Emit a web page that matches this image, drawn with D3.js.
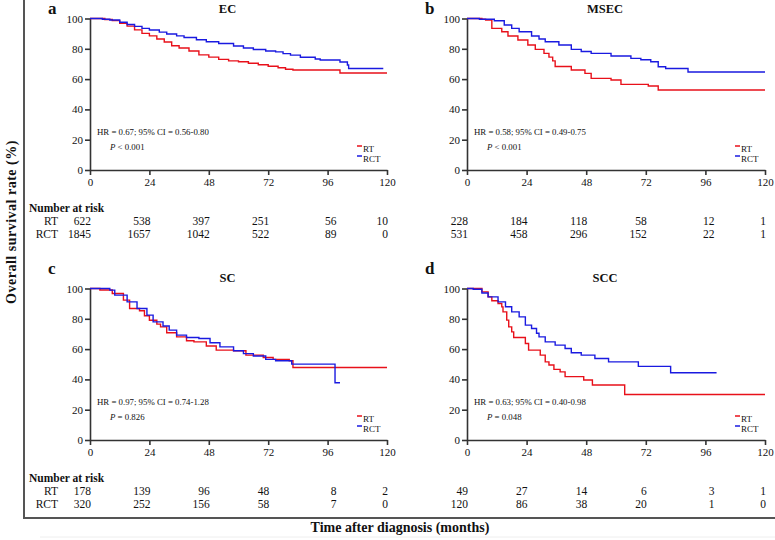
<!DOCTYPE html>
<html>
<head>
<meta charset="utf-8">
<script src="https://cdn.jsdelivr.net/npm/d3@7"></script>
<style>
  body { margin: 0; background: #fff; }
  svg text { font-family: "Liberation Serif", "Times New Roman", serif; fill: #111; }
</style>
</head>
<body>
<svg id="chart" width="775" height="540"></svg>
<script>
// tick marks (months / percent)
const monthTicks = [0, 24, 48, 72, 96, 120];
const rateTicks = [0, 20, 40, 60, 80, 100];
const groups = ["RT", "RCT"];
const groupColors = ["#e8101a", "#1a1ae0"];

// panel letters, titles and stats
const letters = ["a", "b", "c", "d"];
const titles = ["EC", "MSEC", "SC", "SCC"];
const hrTexts = [
  "HR = 0.67; 95% CI = 0.56-0.80",
  "HR = 0.58; 95% CI = 0.49-0.75",
  "HR = 0.97; 95% CI = 0.74-1.28",
  "HR = 0.63; 95% CI = 0.40-0.98"
];
const pTexts = ["< 0.001", "< 0.001", "= 0.826", "= 0.048"];

// number at risk, one row per group
const riskEC = [[622, 538, 397, 251, 56, 10], [1845, 1657, 1042, 522, 89, 0]];
const riskMSEC = [[228, 184, 118, 58, 12, 1], [531, 458, 296, 152, 22, 1]];
const riskSC = [[178, 139, 96, 48, 8, 2], [320, 252, 156, 58, 7, 0]];
const riskSCC = [[49, 27, 14, 6, 3, 1], [120, 86, 38, 20, 1, 0]];

// survival curves [month, %]
const ecRT = [[0,100],[6,99.3],[9,98.6],[12,96.8],[15,95],[18,92.5],[21,90.2],[24,88.5],[27,86.5],[30,84.5],[33,82],[36,80.5],[40,78.5],[44,76],[48,74.5],[52,73],[56,72],[60,71.5],[64,70.5],[68,69.5],[72,68.5],[76,67.5],[79,66.5],[82,66],[101,64],[120,64]];
const ecRCT = [[0,100],[5,99.5],[8,99],[12,97.5],[15,96],[18,94.8],[21,93.5],[24,92.4],[28,91],[31,89.8],[35,88.5],[38,87.5],[43,86],[47,84.7],[52,83.5],[58,81.8],[62,80.5],[66,79.5],[71,78.5],[75,78],[78,76.8],[81,75.8],[85,74.4],[91,73.3],[93,72.6],[101,71.3],[104,69.3],[104.5,67],[118.5,67]];
const msecRT = [[0,100],[6,99.5],[7.5,99],[10,93.5],[14,91.3],[16.5,88.4],[20.5,85.8],[24.5,82.5],[27.5,79.6],[31,77],[33,74.5],[34.5,72],[35.5,68.3],[42,66],[47.5,63.8],[50,60.5],[58,59.4],[62,56.5],[73,55.4],[77,52.8],[120,52.8]];
const msecRCT = [[0,100],[5,99.5],[11,98.5],[15,95.7],[18,93.5],[21,91.3],[26,88.4],[29,86.5],[31.5,84.7],[37,82.5],[42,79.6],[46,78.2],[50,77],[58,75.2],[66,73.7],[70,72.8],[74,71.5],[77,68.2],[80,67],[88,67],[89,64.7],[120,64.7]];
const scRT = [[0,100],[4,99],[9,96.7],[13.5,92.3],[16,86.8],[20,85.3],[22,82],[24,79],[27,76.5],[28.5,74.7],[31,70.8],[35,68.1],[39,65.5],[42,64.8],[47,62],[51,59.3],[58,58.9],[63,56],[70,54.5],[74,53.2],[80.5,52.3],[82,47.9],[120,47.9]];
const scRCT = [[0,100],[8,98.9],[10,95.6],[15,91.2],[19,86.8],[23,82.4],[25.5,78],[29.5,75.2],[32,72.5],[35,69.2],[39,67.7],[44,67],[48.5,64.2],[52.5,61.5],[58,58.9],[62,57],[66,55.4],[71,53.2],[75,52.3],[81.5,50.1],[99,37.8],[101,37.8]];
const sccRT = [[0,100],[6,97.8],[8.5,94.5],[10,91.9],[12.5,90.1],[14,87.9],[14.5,84.6],[16,79.1],[16.8,74.7],[18,71.4],[18.8,67.7],[23.5,63.7],[24.8,59.3],[29.5,56],[31.5,51.6],[33,49.5],[35,46.6],[37.5,45],[39.5,41.8],[47,39.6],[50.5,36.3],[63.5,30],[120,30]];
const sccRCT = [[0,100],[2.5,99.5],[6,97],[8.5,94.5],[12.5,91.2],[15.5,88],[18,84.6],[21,81.3],[23.5,75.8],[26,73.6],[28,70.5],[29,68.1],[31.5,64.8],[35.5,62.6],[39.5,60.4],[42,57.6],[46,56],[51.5,53.8],[57,51.6],[69,48.6],[82,44.4],[100.5,44.4]];

const curves = [[ecRT, ecRCT], [msecRT, msecRCT], [scRT, scRCT], [sccRT, sccRCT]];
const risks = [riskEC, riskMSEC, riskSC, riskSCC];

const svg = d3.select("#chart");

// outer frame (left and bottom)
svg.append("path")
  .attr("d", "M24,0 V518 H775")
  .attr("fill", "none")
  .attr("stroke", "#555")
  .attr("stroke-width", 2);
svg.append("line")
  .attr("x1", 40).attr("x2", 775).attr("y1", 537).attr("y2", 537)
  .attr("stroke", "#eee").attr("stroke-width", 1);

// panel placement
let colLeft = [90, 467],
  colRight = [387, 765],
  rowTop = [18.5, 288.5],
  rowBottom = [170, 440];

for (let p = 0; p < 4; p++) {
  let c = p % 2, r = Math.floor(p / 2);
  let x = d3.scaleLinear().domain([0, 120]).range([colLeft[c], colRight[c]]);
  let y = d3.scaleLinear().domain([0, 100]).range([rowBottom[r], rowTop[r]]);
  let g = svg.append("g");

  // axes
  let xAxis = d3.axisBottom(x).tickValues(monthTicks).tickSize(5).tickSizeOuter(0).tickPadding(3);
  let yAxis = d3.axisLeft(y).tickValues(rateTicks).tickSize(5).tickSizeOuter(0).tickPadding(2);
  g.append("g")
    .attr("class", "axis")
    .attr("transform", `translate(0,${rowBottom[r]})`)
    .call(xAxis);
  g.append("g")
    .attr("class", "axis")
    .attr("transform", `translate(${colLeft[c]},0)`)
    .call(yAxis);
  g.selectAll(".axis path, .axis line")
    .attr("stroke", "#333")
    .attr("stroke-width", 1.6);
  g.selectAll(".axis text")
    .style("font-family", "Liberation Serif")
    .style("font-size", "11px")
    .attr("fill", "#111");

  // survival lines
  let line = d3.line()
    .x((d) => x(d[0]))
    .y((d) => y(d[1]))
    .curve(d3.curveStepAfter);
  curves[p].forEach((data, i) => {
    g.append("path")
      .datum(data)
      .attr("d", line)
      .attr("fill", "none")
      .attr("stroke", groupColors[i])
      .attr("stroke-width", 1.4);
  });

  // letter and title
  g.append("text")
    .attr("x", colLeft[c] - 42)
    .attr("y", r == 0 ? 14 : 274)
    .style("font-size", "17px")
    .style("font-weight", "bold")
    .text(letters[p]);
  g.append("text")
    .attr("x", (colLeft[c] + colRight[c]) / 2 - 11)
    .attr("y", r == 0 ? 10 : 279)
    .attr("text-anchor", "middle")
    .attr("dominant-baseline", "middle")
    .style("font-size", "12.5px")
    .style("font-weight", "bold")
    .text(titles[p]);

  // HR and P
  g.append("text")
    .attr("x", colLeft[c] + 7)
    .attr("y", rowBottom[r] - 37)
    .attr("dominant-baseline", "middle")
    .style("font-size", "8.8px")
    .text(hrTexts[p]);
  let pt = g.append("text")
    .attr("x", colLeft[c] + 20)
    .attr("y", rowBottom[r] - 22)
    .attr("dominant-baseline", "middle")
    .style("font-size", "8.8px");
  pt.append("tspan").style("font-style", "italic").text("P");
  pt.append("tspan").text(" " + pTexts[p]);

  // legend
  groups.forEach((k, i) => {
    let lx = colRight[c] - 24, ly = rowBottom[r] - 20 + i * 10;
    g.append("line")
      .attr("x1", lx - 6).attr("x2", lx - 1)
      .attr("y1", ly - 4).attr("y2", ly - 4)
      .attr("stroke", groupColors[i])
      .attr("stroke-width", 1.5);
    g.append("text")
      .attr("x", lx)
      .attr("y", ly)
      .attr("dominant-baseline", "middle")
      .style("font-size", "9px")
      .text(k);
  });

  // number at risk
  let riskTop = r == 0 ? 209 : 479;
  if (c == 0) {
    g.append("text")
      .attr("x", 29)
      .attr("y", riskTop)
      .attr("dominant-baseline", "middle")
      .style("font-size", "11.5px")
      .style("font-weight", "bold")
      .text("Number at risk");
    groups.forEach((k, i) => {
      g.append("text")
        .attr("x", 58)
        .attr("y", riskTop + 13 * (i + 1))
        .attr("text-anchor", "end")
        .attr("dominant-baseline", "middle")
        .style("font-size", "11.5px")
        .text(k);
    });
  }
  risks[p].forEach((row, i) => {
    g.selectAll(null)
      .data(row)
      .enter()
      .append("text")
      .attr("x", (d, j) => x(monthTicks[j]) + (j == 4 ? 9 : 1))
      .attr("y", riskTop + 13 * (i + 1))
      .attr("text-anchor", "end")
      .attr("dominant-baseline", "middle")
      .style("font-size", "11.5px")
      .text((d) => d);
  });
}

// shared axis titles
svg.append("text")
  .attr("transform", "translate(13,222) rotate(-90)")
  .attr("text-anchor", "middle")
  .attr("dominant-baseline", "middle")
  .style("font-size", "14px")
  .style("font-weight", "bold")
  .style("letter-spacing", "0.5px")
  .text("Overall survival rate (%)");
svg.append("text")
  .attr("x", 400)
  .attr("y", 529)
  .attr("text-anchor", "middle")
  .attr("dominant-baseline", "middle")
  .style("font-size", "14px")
  .style("font-weight", "bold")
  .text("Time after diagnosis (months)");
</script>
</body>
</html>
